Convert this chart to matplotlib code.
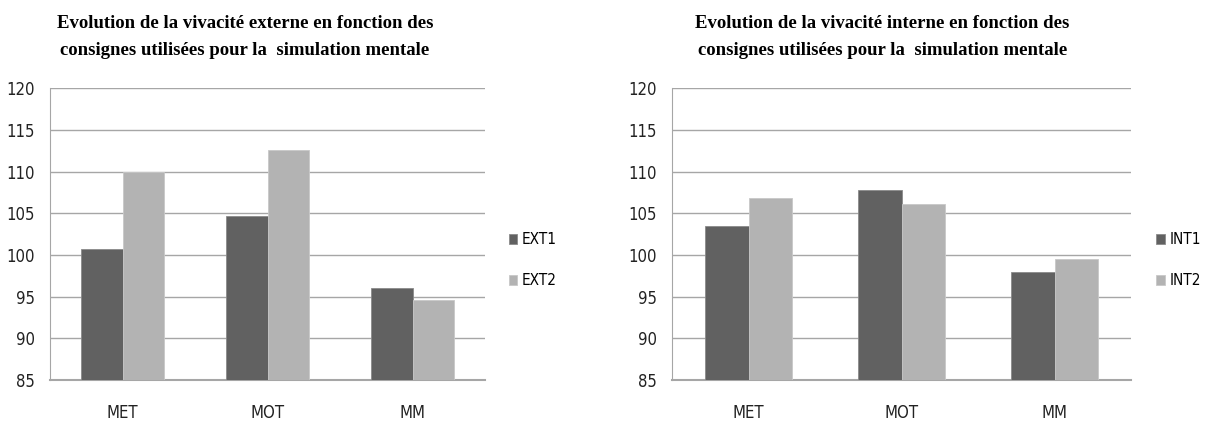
import matplotlib
matplotlib.use("Agg")
import matplotlib.pyplot as plt
import numpy as np

categories = ["MET", "MOT", "MM"]
ext1 = [100.7, 104.7, 96.0]
ext2 = [110.0, 112.6, 94.6]
int1 = [103.5, 107.8, 98.0]
int2 = [106.8, 106.1, 99.5]
yticks = [85, 90, 95, 100, 105, 110, 115, 120]

title_left = "Evolution de la vivacité externe en fonction des\nconsignes utilisées pour la  simulation mentale"
title_right = "Evolution de la vivacité interne en fonction des\nconsignes utilisées pour la  simulation mentale"

dark = "#616161"
light = "#b3b3b3"
grid_col = "#a6a6a6"

tick_font = dict(family="DejaVu Sans", stretch="condensed", size=12)
legend_font = dict(family="DejaVu Sans", stretch="condensed", size=11)

fig = plt.figure(figsize=(12.12, 4.26), dpi=100)
ax1 = fig.add_axes([0.0413, 0.108, 0.359, 0.685])
ax2 = fig.add_axes([0.5545, 0.108, 0.3787, 0.685])


def draw(ax, s1, s2, names):
    x = np.arange(len(categories))
    w = 0.285
    ax.bar(x - w / 2, [v - 85 for v in s1], w, bottom=85, color=dark,
           edgecolor="#8a8a8a", linewidth=0.6, label=names[0], zorder=3)
    ax.bar(x + w / 2, [v - 85 for v in s2], w, bottom=85, color=light,
           edgecolor="#c8c8c8", linewidth=0.6, label=names[1], zorder=3)
    ax.set_xlim(-0.5, len(categories) - 0.5)
    ax.set_ylim(85, 120)
    ax.set_yticks(yticks)
    ax.set_xticks(x)
    ax.set_xticklabels(categories)
    ax.yaxis.grid(True, color=grid_col, linewidth=1.0, zorder=0)
    ax.set_axisbelow(True)
    for s in ["top", "right"]:
        ax.spines[s].set_visible(False)
    ax.spines["left"].set_color(grid_col)
    ax.spines["bottom"].set_color(grid_col)
    ax.spines["bottom"].set_linewidth(1.5)
    ax.tick_params(length=0, colors="#222222")
    ax.tick_params(axis="y", pad=11)
    ax.tick_params(axis="x", pad=17)
    for lab in ax.get_xticklabels() + ax.get_yticklabels():
        lab.set_fontproperties(tick_font)


draw(ax1, ext1, ext2, ["EXT1", "EXT2"])
draw(ax2, int1, int2, ["INT1", "INT2"])

for ax in (ax1, ax2):
    ax.legend(loc="center left", bbox_to_anchor=(1.055, 0.41), frameon=False,
              borderpad=0, borderaxespad=0,
              handlelength=0.55, handleheight=0.55, handletextpad=0.3,
              labelspacing=1.7, prop=legend_font)

title_font = dict(fontsize=13.5, fontweight="bold",
                  family=["Liberation Serif", "DejaVu Serif"], linespacing=1.75)
fig.text(0.202, 0.913, title_left, ha="center", va="center", **title_font)
fig.text(0.728, 0.913, title_right, ha="center", va="center", **title_font)

fig.savefig("out.png", dpi=100)
